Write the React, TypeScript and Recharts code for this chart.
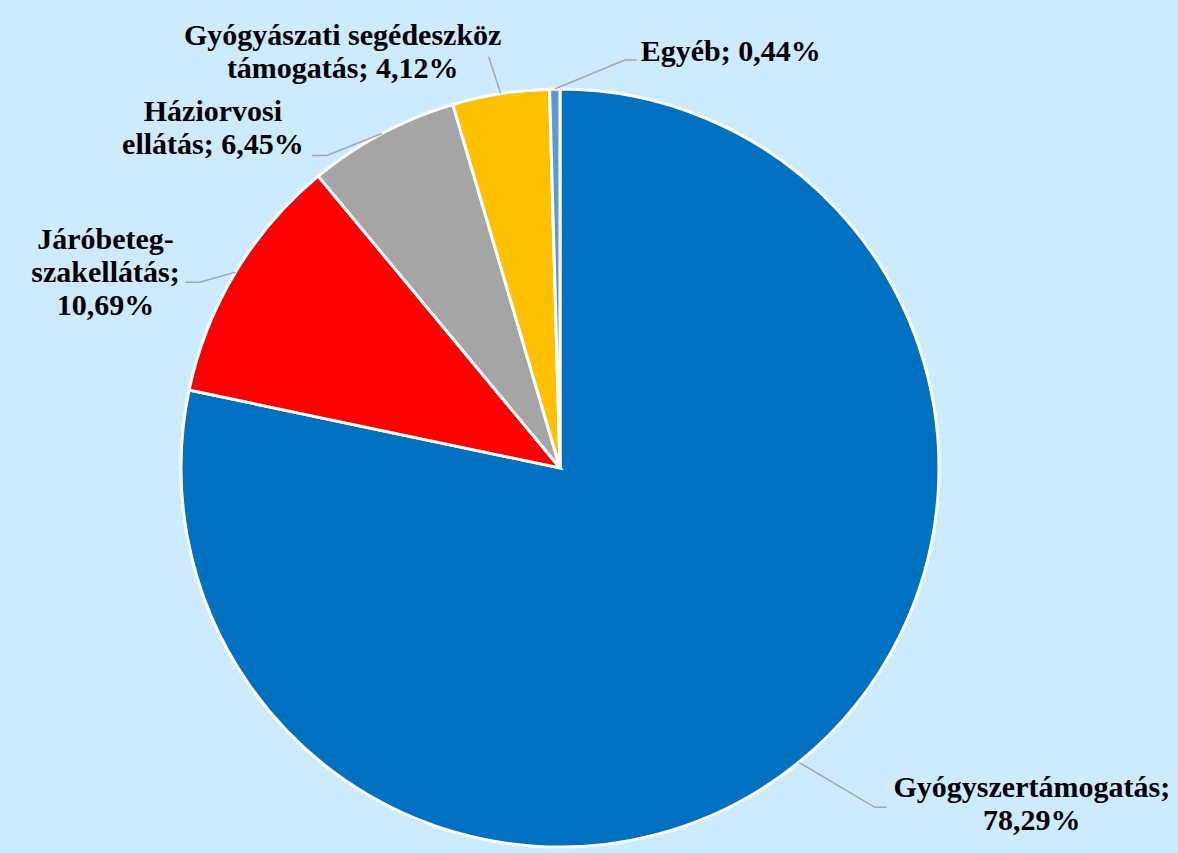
import { PieChart, Pie, Cell } from "recharts"

const categories = [
  "Gyógyszertámogatás",
  "Járóbeteg-szakellátás",
  "Háziorvosi ellátás",
  "Gyógyászati segédeszköz támogatás",
  "Egyéb",
]
const shares = [78.29, 10.69, 6.45, 4.12, 0.44]
const sliceColors = ["#0070C0", "#FF0000", "#A5A5A5", "#FFC000", "#5B9BD5"]

const data = categories.map((name, i) => ({ name, value: shares[i] }))

const fmt = (v: number) => v.toFixed(2).replace(".", ",") + "%"

// how each label is wrapped, like the original
const labelLines = (i: number): string[] => {
  const v = fmt(shares[i])
  switch (i) {
    case 0: return ["Gyógyszertámogatás;", v]
    case 1: return ["Járóbeteg-", "szakellátás;", v]
    case 2: return ["Háziorvosi", "ellátás; " + v]
    case 3: return ["Gyógyászati segédeszköz", "támogatás; " + v]
    default: return ["Egyéb; " + v]
  }
}

// leader elbow / end and text offsets, relative to the slice edge point
const labelLayout = [
  { elbow: [76, 45], end: [88, 45], text: [233, 35], anchor: "middle" },
  { elbow: [-36, 10], end: [-50, 10], text: [-130, -23], anchor: "middle" },
  { elbow: [-55, 22], end: [-70, 22], text: [-169, -12], anchor: "middle" },
  { elbow: [-12, -37], end: [-12, -37], text: [-158, -49], anchor: "middle" },
  { elbow: [70, -29], end: [82, -29], text: [86, -28], anchor: "start" },
]

const RAD = Math.PI / 180
const LINE_H = 33

const renderLabel = (props: any) => {
  const { cx, cy, midAngle, outerRadius, index } = props
  const ex = cx + outerRadius * Math.cos(-midAngle * RAD)
  const ey = cy + outerRadius * Math.sin(-midAngle * RAD)
  const l = labelLayout[index]
  const lines = labelLines(index)
  return (
    <g key={`lbl-${index}`}>
      <polyline
        points={`${ex},${ey} ${ex + l.elbow[0]},${ey + l.elbow[1]} ${ex + l.end[0]},${ey + l.end[1]}`}
        fill="none"
        stroke="#A6A6A6"
        strokeWidth={1.5}
      />
      <text
        x={ex + l.text[0]}
        y={ey + l.text[1]}
        textAnchor={l.anchor as any}
        fontFamily="'Times New Roman', 'Liberation Serif', serif"
        fontWeight="bold"
        fontSize={30}
        fill="#000"
      >
        {lines.map((t, k) => (
          <tspan key={k} x={ex + l.text[0]} dy={k === 0 ? 0 : LINE_H}>{t}</tspan>
        ))}
      </text>
    </g>
  )
}

export default function App() {
  return (
    <div style={{ width: 1178, height: 853, background: "#CCEBFF" }}>
      <style>{"body{margin:0}"}</style>
      <PieChart width={1178} height={853} margin={{ top: 0, right: 0, bottom: 0, left: 0 }}>
        <Pie
          data={data}
          dataKey="value"
          nameKey="name"
          cx={560}
          cy={468}
          outerRadius={379}
          startAngle={90}
          endAngle={-270}
          stroke="#FFFFFF"
          strokeWidth={3}
          label={renderLabel}
          labelLine={false}
          isAnimationActive={false}
        >
          {data.map((d, i) => (
            <Cell key={d.name} fill={sliceColors[i]} />
          ))}
        </Pie>
      </PieChart>
    </div>
  )
}
